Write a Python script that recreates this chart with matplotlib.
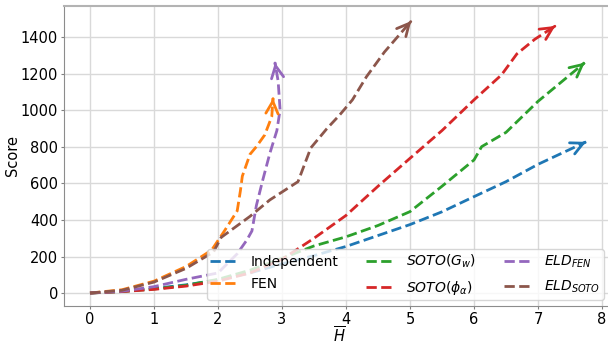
import matplotlib
matplotlib.use("Agg")
import matplotlib.pyplot as plt
import numpy as np

labels = ['Independent', 'FEN', r'$SOTO(G_w)$', r'$SOTO(\phi_\alpha)$', r'$ELD_{FEN}$', r'$ELD_{SOTO}$']
colors = ['tab:blue', 'tab:orange', 'tab:green', 'tab:red', 'tab:purple', 'tab:brown']

ind_x = [0, 0.5, 1, 1.5, 2, 2.5, 3, 3.5, 4, 4.5, 5, 5.5, 6, 6.5, 7, 7.75]
ind_y = [0, 10, 25, 45, 72, 110, 160, 205, 255, 315, 375, 445, 528, 610, 705, 828]

fen_x = [0, 0.5, 1, 1.5, 1.9, 2.1, 2.3, 2.35, 2.38, 2.5, 2.6, 2.73, 2.84, 2.86]
fen_y = [0, 18, 65, 145, 235, 340, 450, 560, 640, 760, 802, 866, 966, 1067]

sotog_x = [0, 0.5, 1, 1.5, 2, 2.5, 3, 3.5, 4, 4.5, 5, 5.5, 6, 6.12, 6.5, 7, 7.73]
sotog_y = [0, 8, 22, 42, 75, 125, 190, 258, 308, 370, 446, 585, 729, 802, 880, 1050, 1262]

sotop_x = [0, 0.5, 1, 1.5, 2, 2.5, 3, 3.5, 4, 4.5, 5, 5.5, 6, 6.43, 6.67, 6.95, 7.27]
sotop_y = [0, 8, 20, 38, 65, 110, 185, 300, 425, 585, 738, 890, 1058, 1195, 1310, 1390, 1463]

eldf_x = [0, 0.5, 1, 1.5, 2, 2.3, 2.45, 2.53, 2.6, 2.7, 2.81, 2.92, 2.97, 2.94, 2.89]
eldf_y = [0, 10, 35, 75, 110, 215, 290, 340, 480, 620, 765, 890, 1003, 1160, 1262]

elds_x = [0, 0.5, 1, 1.5, 1.93, 2.05, 2.5, 2.81, 3.25, 3.45, 3.7, 3.9, 4.1, 4.32, 4.6, 5.02]
elds_y = [0, 15, 60, 135, 225, 305, 420, 510, 610, 795, 900, 975, 1058, 1185, 1320, 1490]

series = [(ind_x, ind_y), (fen_x, fen_y), (sotog_x, sotog_y),
          (sotop_x, sotop_y), (eldf_x, eldf_y), (elds_x, elds_y)]

fig = plt.figure(figsize=(6.08, 3.46), dpi=100)
ax = fig.add_axes([64.4 / 608, 40 / 346, 550.4 / 608, 300.5 / 346])

for (xs, ys), lab, c in zip(series, labels, colors):
    ax.plot(xs, ys, linestyle='--', color=c, lw=2, label=lab)
    x1, y1 = xs[-1], ys[-1]
    x0, y0 = xs[-2], ys[-2]
    xt = x1 - 0.02 * (x1 - x0)
    yt = y1 - 0.02 * (y1 - y0)
    ax.annotate('', xy=(x1, y1), xytext=(xt, yt),
                arrowprops=dict(arrowstyle='->', color=c, lw=2,
                                mutation_scale=22, shrinkA=0, shrinkB=0))

ax.set_xlim(-0.4, 8.2)
ax.set_ylim(-71, 1575)
ax.set_xticks(range(0, 9))
ax.set_yticks(range(0, 1401, 200))
ax.tick_params(labelsize=10.5, color='0.5', length=2.5, pad=2)
ax.grid(True, color='0.85', lw=1)
ax.set_axisbelow(True)
for s in ax.spines.values():
    s.set_color('0.55')
ax.spines['top'].set_color('0.7')
ax.spines['top'].set_linewidth(1.5)
ax.set_xlabel(r'$\overline{H}$', fontsize=10.5, labelpad=-1)
ax.set_ylabel('Score', fontsize=10.5, labelpad=0.5)

ax.legend(ncol=3, fontsize=10, loc='lower right',
          bbox_to_anchor=(604 / 608, 46 / 346), bbox_transform=fig.transFigure,
          borderaxespad=0, handlelength=2.1, columnspacing=2.0,
          labelspacing=0.6, borderpad=0.25)

fig.savefig('out.png', dpi=100)
